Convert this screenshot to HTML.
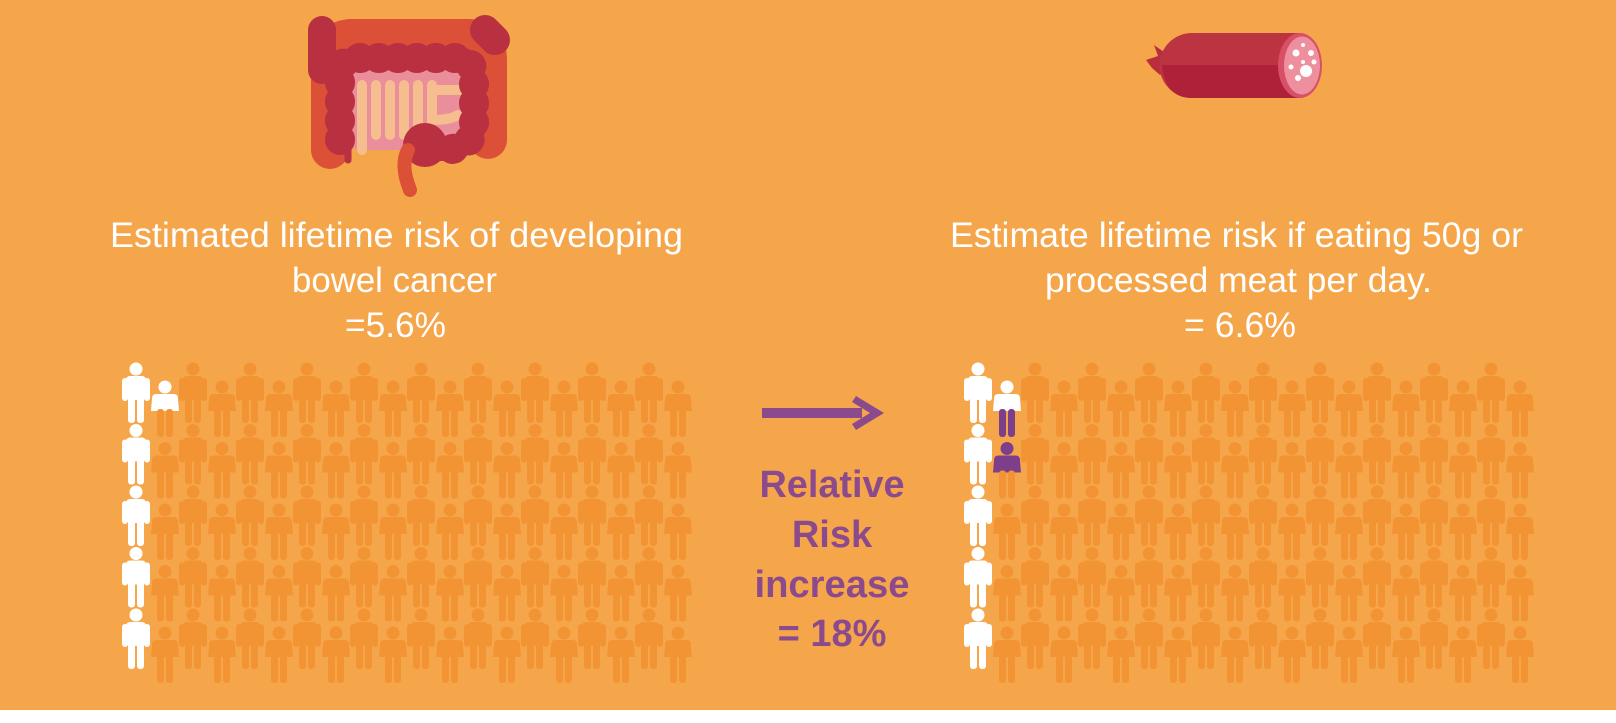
<!DOCTYPE html>
<html><head><meta charset="utf-8"><style>
html,body{margin:0;padding:0;background:#fff}
svg{display:block}
</style></head><body>
<svg id="s" width="1616" height="723" viewBox="0 0 1616 723" xmlns="http://www.w3.org/2000/svg">
<defs>
<g id="tall"><circle cx="0" cy="0" r="6.5"/><rect x="-10" y="7" width="20" height="24" rx="4"/><rect x="-14" y="9" width="6" height="23" rx="3"/><rect x="8" y="9" width="6" height="23" rx="3"/><rect x="-8" y="27" width="7" height="27" rx="3"/><rect x="1" y="27" width="7" height="27" rx="3"/></g>
<g id="stop"><circle cx="0" cy="0" r="6.5"/><path d="M-9,7 H9 Q13,7 13,12 L14,24 H-14 L-13,12 Q-13,7 -9,7Z"/></g>
<g id="sleg"><rect x="-8" y="22" width="7" height="28" rx="3"/><rect x="1" y="22" width="7" height="28" rx="3"/></g>
</defs>
<rect width="1616" height="710" fill="#F6A64A"/>
<g id="figs"></g>

<!-- colon -->
<g>
<path d="M330,150 L330,60 Q330,40 350,38 L470,38 Q488,40 488,60 L488,140" fill="none" stroke="#DC5038" stroke-width="38" stroke-linecap="round"/>
<rect x="350" y="70" width="122" height="80" rx="10" fill="#E98E9A"/>
<path d="M362,150 V85 M376,85 V135 M390,135 V85 M404,85 V135 M418,135 V85 M432,85 V120 Q450,120 458,115 M436,90 H462" fill="none" stroke="#F6BE8E" stroke-width="10" stroke-linecap="round"/>
<path d="M340,140 L340,70 Q342,58 360,58 L460,58 Q472,60 474,75 L474,130 Q470,150 440,150" fill="none" stroke="#B93040" stroke-width="30" stroke-linecap="round" stroke-dasharray="1 18"/>
<path d="M340,140 L340,70 Q342,58 360,58 L460,58 Q472,60 474,75 L474,130 Q470,150 440,150" fill="none" stroke="#B93040" stroke-width="22" stroke-linecap="round"/>
<path d="M322,70 L322,30" stroke="#B93040" stroke-width="28" stroke-linecap="round"/>
<path d="M485,30 L495,40" stroke="#B93040" stroke-width="30" stroke-linecap="round"/>
<circle cx="425" cy="145" r="22" fill="#B93040"/>
<path d="M348,145 V160" stroke="#B93040" stroke-width="7" stroke-linecap="round"/>
<path d="M408,150 Q400,165 410,190" stroke="#DC5038" stroke-width="14" fill="none" stroke-linecap="round"/>
</g>

<!-- sausage -->
<g>
<path d="M1146,60 L1158,56 L1154,45 L1164,52 L1170,48 L1168,70 L1160,75 L1152,68Z" fill="#B82E3E"/>
<path d="M1192,33 H1300 V98 H1192 A32,32 0 0 1 1192,33Z" fill="#BC3441"/>
<path d="M1162,65 H1300 V98 H1192 Q1165,98 1162,65Z" fill="#AE2138"/>
<ellipse cx="1300" cy="65.5" rx="22" ry="32.5" fill="#D75068"/>
<ellipse cx="1302" cy="65.5" rx="18" ry="29" fill="#EE8F9E"/>
<g fill="#fff"><circle cx="1306" cy="71" r="6"/><circle cx="1296" cy="53" r="3.5"/><circle cx="1311" cy="53" r="3"/><circle cx="1298" cy="78" r="3"/><circle cx="1291" cy="67" r="2.5"/><circle cx="1314" cy="62" r="2.5"/><circle cx="1303" cy="45" r="2"/><circle cx="1303" cy="62" r="2"/></g>
</g>

<g font-family="'Liberation Sans', sans-serif" font-size="35" fill="#fff">
<text x="110" y="247" textLength="573" lengthAdjust="spacingAndGlyphs">Estimated lifetime risk of developing</text>
<text x="292" y="292" textLength="205" lengthAdjust="spacingAndGlyphs">bowel cancer</text>
<text x="345" y="337" textLength="101" lengthAdjust="spacingAndGlyphs">=5.6%</text>
<text x="950" y="247" textLength="573" lengthAdjust="spacingAndGlyphs">Estimate lifetime risk if eating 50g or</text>
<text x="1045" y="292" textLength="387" lengthAdjust="spacingAndGlyphs">processed meat per day.</text>
<text x="1184" y="337" textLength="112" lengthAdjust="spacingAndGlyphs">= 6.6%</text>
</g>

<path d="M762,408 H862 V418 H762Z" fill="#8B4A8C"/>
<path d="M856,396 L884,413 L856,430 L852,424 L870,413 L852,402Z" fill="#8B4A8C"/>
<g font-family="'Liberation Sans', sans-serif" font-size="38" font-weight="bold" fill="#8B4A8C" text-anchor="middle">
<text x="832" y="497" textLength="145" lengthAdjust="spacingAndGlyphs">Relative</text>
<text x="832" y="547">Risk</text>
<text x="832" y="597" textLength="155" lengthAdjust="spacingAndGlyphs">increase</text>
<text x="832" y="646">= 18%</text>
</g>
</svg>
<script>
(function(){
var NS="http://www.w3.org/2000/svg",g=document.getElementById("figs");
var O="#F29434",W="#FFFFFF",P="#7E3F8A";
function use(id,x,y,f){var u=document.createElementNS(NS,"use");u.setAttribute("href","#"+id);u.setAttribute("x",x);u.setAttribute("y",y);u.setAttribute("fill",f);g.appendChild(u);}
[0,842].forEach(function(off,gi){
 for(var c=0;c<10;c++){
  for(var r=0;r<5;r++){
   var tx=136+off+c*57, ty=369+r*61.5;
   use("tall",tx,ty,c==0?W:O);
   var sx=165+off+c*57, sy=387+r*61.5;
   var top=O,leg=O;
   if(c==0&&r==0){top=W;leg=gi==1?P:O;}
   if(c==0&&r==1&&gi==1){top=P;}
   use("stop",sx,sy,top);use("sleg",sx,sy,leg);
  }
 }
});
})();
</script>
</body></html>
